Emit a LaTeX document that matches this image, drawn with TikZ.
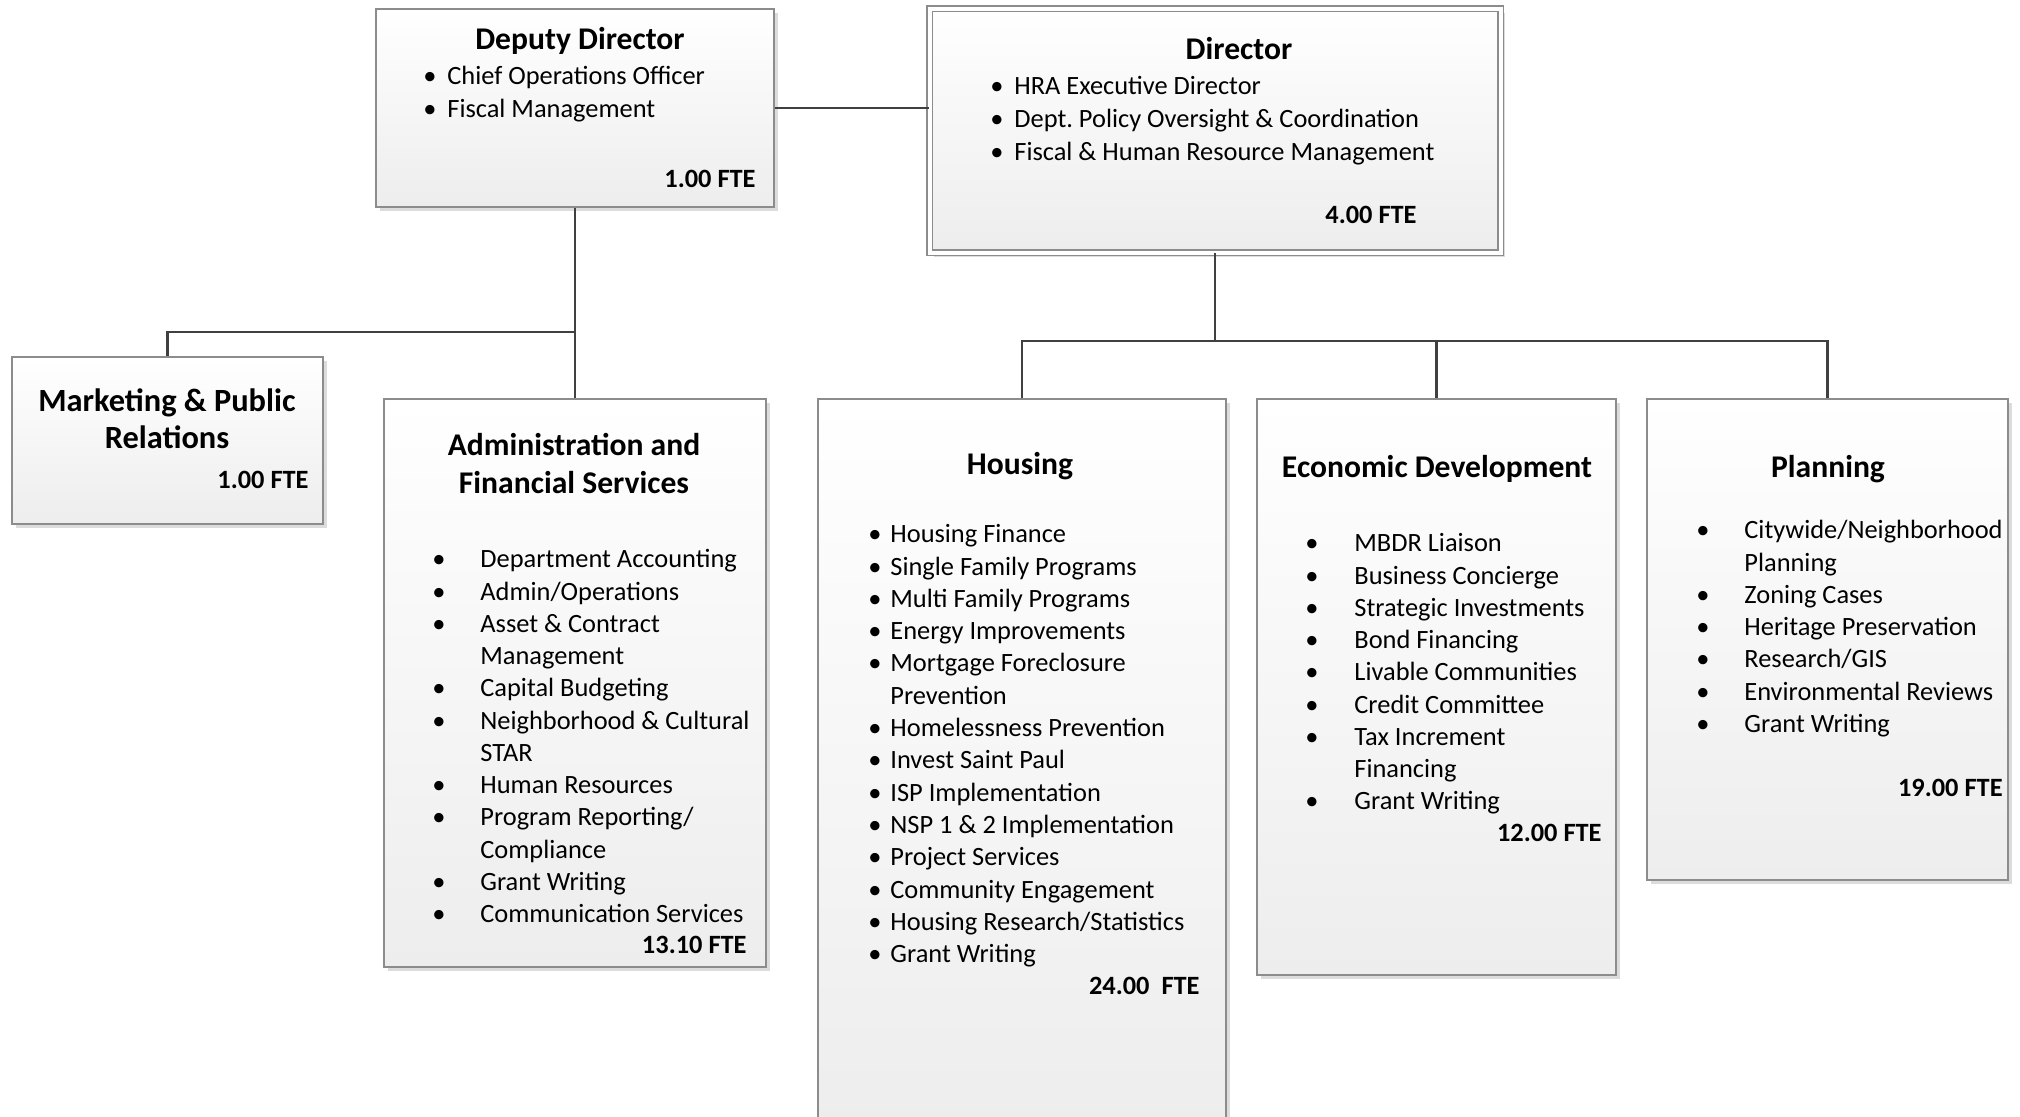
\documentclass[tikz,border=0pt]{standalone}
\usepackage{fontspec}
\setmainfont{Carlito}
\usetikzlibrary{shadows}
\frenchspacing
\definecolor{boxline}{HTML}{8C8C8C}
\definecolor{boxbot}{HTML}{EDEDED}
\definecolor{conn}{HTML}{404040}
\definecolor{shadecol}{HTML}{DCDCDC}
\newcommand\SetList[4]{\def\LDx{#1}\def\LTx{#2}\def\LY{#3}\def\LS{#4}}
\newcommand\BItem[3]{\node[dotn] (#1d) at (\LDx,{\LY+\LS*#2}) {\textbullet};\node[itm] (#1) at (\LTx,{\LY+\LS*#2}) {#3};}
\newcommand\CItem[3]{\node[itm] (#1) at (\LTx,{\LY+\LS*#2}) {#3};}
\begin{document}
\begin{tikzpicture}[x=0.5pt,y=-0.5pt,
  orgbox/.style={draw=boxline, line width=0.6pt, top color=white, bottom color=boxbot, inner sep=0pt,
    drop shadow={shadow xshift=2pt, shadow yshift=-2pt, fill=shadecol, opacity=1}},
  link/.style={draw=conn, line width=1.1pt},
  ttl/.style={font=\fontsize{15.8}{19}\selectfont\bfseries, anchor=mid, inner sep=0pt},
  itm/.style={font=\fontsize{13.2}{16}\selectfont, anchor=mid west, inner sep=0pt},
  dotn/.style={font=\fontsize{13.2}{16}\selectfont, anchor=mid, inner sep=0pt},
  fte/.style={font=\fontsize{13.2}{16}\selectfont\bfseries, anchor=mid east, inner sep=0pt}]
\useasboundingbox (0,0) rectangle (2020,1116);
\clip (0,0) rectangle (2020,1116);

% boxes
\node[orgbox, minimum width=199pt, minimum height=99pt] (dep) at (575,108) {};
\node[orgbox, double=white, double distance=2pt, minimum width=285.5pt, minimum height=122pt] (dir) at (1215,130.5) {};
\node[orgbox, minimum width=155.5pt, minimum height=83.5pt] (mkt) at (167.5,440.5) {};
\node[orgbox, minimum width=191pt, minimum height=284pt] (adm) at (575,683) {};
\node[orgbox, minimum width=204pt, minimum height=365.5pt] (hou) at (1022,764.5) {};
\node[orgbox, minimum width=179.5pt, minimum height=288pt] (eco) at (1436.5,687) {};
\node[orgbox, minimum width=180.5pt, minimum height=240.5pt] (pla) at (1827.5,639.5) {};

% connectors
\coordinate (jl) at (575,332);
\coordinate (jr) at (1215,341);
\draw[link] (dep.east) -- (dep.east -| dir.west);
\draw[link] (dep.south) -- (adm.north);
\draw[link] (jl) -| (mkt.north);
\draw[link] (dir.south) -- (jr);
\draw[link] (jr) -| (hou.north);
\draw[link] (jr) -| (pla.north);
\draw[link] (eco.north |- jr) -- (eco.north);

\begin{scope}[shift={(0,5)}]
% Deputy Director
\node[ttl] (dept) at (580,40) {Deputy Director};
\SetList{430}{447}{75}{33}
\BItem{dep0}{0}{Chief Operations Officer}
\BItem{dep1}{1}{Fiscal Management}
\node[fte] (depf) at (756,178) {1.00 FTE};

% Director
\node[ttl] (dirt) at (1239,50) {Director};
\SetList{997}{1014}{85}{33}
\BItem{dir0}{0}{HRA Executive Director}
\BItem{dir1}{1}{Dept. Policy Oversight \& Coordination}
\BItem{dir2}{2}{Fiscal \& Human Resource Management}
\node[fte] (dirf) at (1417,214) {4.00 FTE};

% Marketing
\node[ttl, font=\fontsize{16.2}{19}\selectfont\bfseries] (mktt1) at (167,402) {Marketing \& Public};
\node[ttl, font=\fontsize{16.2}{19}\selectfont\bfseries] (mktt2) at (167,439) {Relations};
\node[fte] (mktf) at (309,479) {1.00 FTE};

% Administration
\node[ttl] (admt1) at (574,446) {Administration and};
\node[ttl] (admt2) at (574,484) {Financial Services};
\SetList{439}{480}{558}{32.25}
\BItem{adm0}{0}{Department Accounting}
\BItem{adm1}{1}{Admin/Operations}
\BItem{adm2}{2}{Asset \& Contract}
\CItem{adm3}{3}{Management}
\BItem{adm4}{4}{Capital Budgeting}
\BItem{adm5}{5}{Neighborhood \& Cultural}
\CItem{adm6}{6}{STAR}
\BItem{adm7}{7}{Human Resources}
\BItem{adm8}{8}{Program Reporting/}
\CItem{adm9}{9}{Compliance}
\BItem{adm10}{10}{Grant Writing}
\BItem{adm11}{11}{Communication Services}
\node[fte] (admf) at (747,944) {13.10 FTE};

% Housing
\node[ttl] (hout) at (1020,465) {Housing};
\SetList{875}{890}{533}{32.3}
\BItem{hou0}{0}{Housing Finance}
\BItem{hou1}{1}{Single Family Programs}
\BItem{hou2}{2}{Multi Family Programs}
\BItem{hou3}{3}{Energy Improvements}
\BItem{hou4}{4}{Mortgage Foreclosure}
\CItem{hou5}{5}{Prevention}
\BItem{hou6}{6}{Homelessness Prevention}
\BItem{hou7}{7}{Invest Saint Paul}
\BItem{hou8}{8}{ISP Implementation}
\BItem{hou9}{9}{NSP 1 \& 2 Implementation}
\BItem{hou10}{10}{Project Services}
\BItem{hou11}{11}{Community Engagement}
\BItem{hou12}{12}{Housing Research/Statistics}
\BItem{hou13}{13}{Grant Writing}
\node[fte] (houf) at (1200,985) {24.00\ \ FTE};

% Economic Development
\node[ttl] (ecot) at (1437,468) {Economic Development};
\SetList{1312}{1354}{542}{32.25}
\BItem{eco0}{0}{MBDR Liaison}
\BItem{eco1}{1}{Business Concierge}
\BItem{eco2}{2}{Strategic Investments}
\BItem{eco3}{3}{Bond Financing}
\BItem{eco4}{4}{Livable Communities}
\BItem{eco5}{5}{Credit Committee}
\BItem{eco6}{6}{Tax Increment}
\CItem{eco7}{7}{Financing}
\BItem{eco8}{8}{Grant Writing}
\node[fte] (ecof) at (1602,832) {12.00 FTE};

% Planning
\node[ttl] (plat) at (1828,468) {Planning};
\SetList{1703}{1744}{529}{32.25}
\BItem{pla0}{0}{Citywide/Neighborhood}
\CItem{pla1}{1}{Planning}
\BItem{pla2}{2}{Zoning Cases}
\BItem{pla3}{3}{Heritage Preservation}
\BItem{pla4}{4}{Research/GIS}
\BItem{pla5}{5}{Environmental Reviews}
\BItem{pla6}{6}{Grant Writing}
\node[fte] (plaf) at (2003,787) {19.00 FTE};
\end{scope}
\end{tikzpicture}
\end{document}
